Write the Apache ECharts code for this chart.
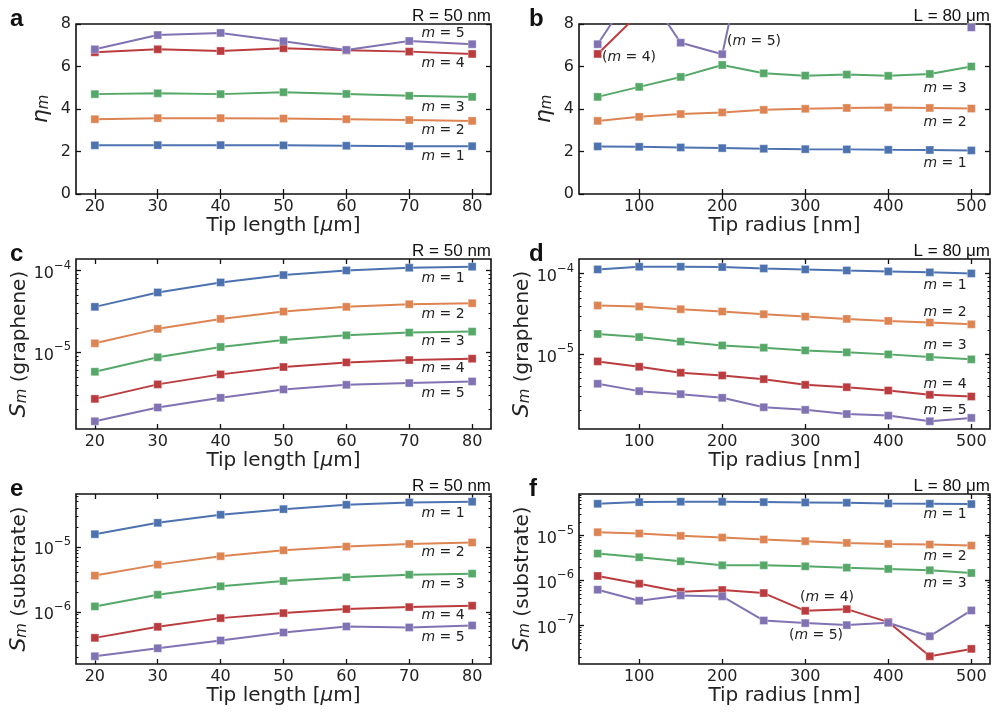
<!DOCTYPE html>
<html>
<head>
<meta charset="utf-8">
<script src="https://cdn.jsdelivr.net/npm/echarts@6/dist/echarts.min.js"></script>
<style>
  html, body { margin: 0; background: #fff; }
  #main { width: 994px; height: 713px; }
</style>
</head>
<body>
<div id="main"></div>
<script>
// x values and tick labels
const lengthX = [20, 30, 40, 50, 60, 70, 80];
const radiusX = [50, 100, 150, 200, 250, 300, 350, 400, 450, 500];
const lengthTicks = [20, 30, 40, 50, 60, 70, 80];
const radiusTicks = [100, 200, 300, 400, 500];
const etaTicks = [0, 2, 4, 6, 8];

// a: eta_m vs tip length (R = 50 nm), rows m = 1..5
const etaLength = [
  [2.29, 2.30, 2.30, 2.29, 2.27, 2.25, 2.25],
  [3.52, 3.57, 3.57, 3.55, 3.52, 3.48, 3.44],
  [4.70, 4.74, 4.70, 4.79, 4.71, 4.62, 4.57],
  [6.67, 6.81, 6.73, 6.86, 6.76, 6.70, 6.59],
  [6.81, 7.48, 7.58, 7.19, 6.78, 7.20, 7.05]
];
// b: eta_m vs tip radius (L = 80 um), m = 4, 5 go off the top
const etaRadius = [
  [2.24, 2.22, 2.19, 2.16, 2.13, 2.11, 2.10, 2.08, 2.07, 2.05],
  [3.44, 3.63, 3.76, 3.84, 3.96, 4.01, 4.05, 4.07, 4.05, 4.02],
  [4.57, 5.04, 5.51, 6.07, 5.68, 5.57, 5.62, 5.56, 5.65, 6.00],
  [6.59, 8.5, 11.5, 13.0, 14.5, 16.0, 17.0, 18.0, 19.0, 20.0],
  [7.05, 10.0, 7.12, 6.58, 15.5, 18.0, 21.0, 24.0, 30.0, 7.84]
];
// c: S_m (graphene) vs tip length
const grLength = [
  [3.61e-5, 5.42e-5, 7.19e-5, 8.85e-5, 1.009e-4, 1.089e-4, 1.12e-4],
  [1.29e-5, 1.94e-5, 2.57e-5, 3.16e-5, 3.61e-5, 3.89e-5, 4.0e-5],
  [5.78e-6, 8.69e-6, 1.164e-5, 1.419e-5, 1.618e-5, 1.746e-5, 1.795e-5],
  [2.69e-6, 4.05e-6, 5.37e-6, 6.61e-6, 7.53e-6, 8.05e-6, 8.36e-6],
  [1.43e-6, 2.11e-6, 2.77e-6, 3.51e-6, 4.0e-6, 4.2e-6, 4.4e-6]
];
// d: S_m (graphene) vs tip radius
const grRadius = [
  [1.132e-4, 1.222e-4, 1.222e-4, 1.211e-4, 1.164e-4, 1.132e-4, 1.099e-4, 1.069e-4, 1.040e-4, 1.009e-4],
  [4.04e-5, 3.92e-5, 3.63e-5, 3.40e-5, 3.15e-5, 2.94e-5, 2.75e-5, 2.60e-5, 2.48e-5, 2.36e-5],
  [1.79e-5, 1.64e-5, 1.44e-5, 1.29e-5, 1.21e-5, 1.12e-5, 1.06e-5, 1.0e-5, 9.27e-6, 8.67e-6],
  [8.18e-6, 7.02e-6, 5.92e-6, 5.48e-6, 4.93e-6, 4.19e-6, 3.92e-6, 3.56e-6, 3.15e-6, 3.0e-6],
  [4.32e-6, 3.50e-6, 3.21e-6, 2.89e-6, 2.21e-6, 2.05e-6, 1.82e-6, 1.74e-6, 1.48e-6, 1.63e-6]
];
// e: S_m (substrate) vs tip length
const subLength = [
  [1.57e-5, 2.35e-5, 3.13e-5, 3.82e-5, 4.46e-5, 4.85e-5, 4.97e-5],
  [3.61e-6, 5.33e-6, 7.18e-6, 8.87e-6, 1.01e-5, 1.11e-5, 1.17e-5],
  [1.21e-6, 1.83e-6, 2.47e-6, 2.98e-6, 3.40e-6, 3.73e-6, 3.87e-6],
  [3.96e-7, 5.86e-7, 7.98e-7, 9.53e-7, 1.10e-6, 1.18e-6, 1.24e-6],
  [2.06e-7, 2.74e-7, 3.61e-7, 4.79e-7, 5.93e-7, 5.73e-7, 6.15e-7]
];
// f: S_m (substrate) vs tip radius
const subRadius = [
  [5.08e-5, 5.53e-5, 5.64e-5, 5.64e-5, 5.53e-5, 5.44e-5, 5.36e-5, 5.18e-5, 5.08e-5, 5.0e-5],
  [1.186e-5, 1.109e-5, 9.84e-6, 9.02e-6, 8.15e-6, 7.48e-6, 6.86e-6, 6.52e-6, 6.30e-6, 5.98e-6],
  [3.97e-6, 3.29e-6, 2.68e-6, 2.18e-6, 2.18e-6, 2.07e-6, 1.93e-6, 1.81e-6, 1.69e-6, 1.47e-6],
  [1.26e-6, 8.49e-7, 5.64e-7, 6.14e-7, 5.26e-7, 2.12e-7, 2.31e-7, 1.19e-7, 2.07e-8, 3.02e-8],
  [6.25e-7, 3.55e-7, 4.67e-7, 4.44e-7, 1.29e-7, 1.13e-7, 1.02e-7, 1.15e-7, 5.78e-8, 2.16e-7]
];

const colors = ['#4c72b0', '#dd8452', '#55a868', '#bb3c3f', '#8172b3'];
const FONT = 'DejaVu Sans';
const SANS = 'Liberation Sans';

const panels = [
  { letter: 'a', x: lengthX, xt: lengthTicks, rows: etaLength, log: false, yname: 'eta', xname: 'Tip length', note: 'R = 50 nm', left: 76, top: 24, width: 415 },
  { letter: 'b', x: radiusX, xt: radiusTicks, rows: etaRadius, log: false, yname: 'eta', xname: 'Tip radius', note: 'L = 80 μm', left: 579, top: 24, width: 411 },
  { letter: 'c', x: lengthX, xt: lengthTicks, rows: grLength, log: true, yname: 'graphene', xname: 'Tip length', note: 'R = 50 nm', left: 76, top: 259, width: 415 },
  { letter: 'd', x: radiusX, xt: radiusTicks, rows: grRadius, log: true, yname: 'graphene', xname: 'Tip radius', note: 'L = 80 μm', left: 579, top: 259, width: 411 },
  { letter: 'e', x: lengthX, xt: lengthTicks, rows: subLength, log: true, yname: 'substrate', xname: 'Tip length', note: 'R = 50 nm', left: 76, top: 494, width: 415 },
  { letter: 'f', x: radiusX, xt: radiusTicks, rows: subRadius, log: true, yname: 'substrate', xname: 'Tip radius', note: 'L = 80 μm', left: 579, top: 494, width: 411 }
];

// labels next to the curves (pixel centres)
const notes = [
  [443, 156, 'm = 1'], [443, 130, 'm = 2'], [443, 107, 'm = 3'], [443, 63, 'm = 4'], [443, 33, 'm = 5'],
  [945, 163, 'm = 1'], [945, 122, 'm = 2'], [945, 88, 'm = 3'], [629, 57, '(m = 4)'], [754, 41, '(m = 5)'],
  [443, 278, 'm = 1'], [443, 314, 'm = 2'], [443, 341, 'm = 3'], [443, 368, 'm = 4'], [443, 393, 'm = 5'],
  [945, 285, 'm = 1'], [945, 312, 'm = 2'], [945, 345, 'm = 3'], [945, 384, 'm = 4'], [945, 410, 'm = 5'],
  [443, 513, 'm = 1'], [443, 552, 'm = 2'], [443, 584, 'm = 3'], [443, 615, 'm = 4'], [443, 637, 'm = 5'],
  [945, 514, 'm = 1'], [945, 556, 'm = 2'], [945, 583, 'm = 3'], [827, 597, '(m = 4)'], [816, 635, '(m = 5)']
];

const H = 170;
const grid = [], xAxis = [], yAxis = [], series = [], graphic = [];

function pad(lo, hi) {
  const d = (hi - lo) * 0.05;
  return [lo - d, hi + d];
}

function logTicks(lo, hi) {
  const major = [], minor = [];
  for (let n = Math.floor(lo); n <= Math.ceil(hi); n++) {
    if (n >= lo && n <= hi) major.push(n);
    for (let k = 2; k <= 9; k++) {
      const v = n + Math.log10(k);
      if (v >= lo && v <= hi) minor.push(v);
    }
  }
  return { major, minor };
}

const tickStyle = { lineStyle: { color: '#111', width: 1.3 } };

panels.forEach((p, i) => {
  grid.push({
    left: p.left, top: p.top, width: p.width, height: H,
    show: true, borderColor: '#111', borderWidth: 1.6, backgroundColor: 'transparent'
  });
  const xr = pad(p.x[0], p.x[p.x.length - 1]);
  let yr, major, minor = [];
  if (p.log) {
    const all = [].concat(...p.rows).map(Math.log10);
    yr = pad(Math.min(...all), Math.max(...all));
    const t = logTicks(yr[0], yr[1]);
    major = t.major; minor = t.minor;
  } else {
    yr = [0, 8];
    major = etaTicks;
  }

  const xi = xAxis.length;
  xAxis.push({
    type: 'value', gridIndex: i, position: 'bottom', min: xr[0], max: xr[1],
    axisLine: { show: false }, splitLine: { show: false },
    axisTick: { show: true, inside: true, length: 5, customValues: p.xt, ...tickStyle },
    axisLabel: { show: true, customValues: p.xt, margin: 5, color: '#222', fontSize: 16, fontFamily: FONT },
    name: p.xname + ' [' + (p.xname === 'Tip length' ? '{i|μ}m' : 'nm') + ']',
    nameLocation: 'middle', nameGap: 19,
    nameTextStyle: { fontSize: 20, color: '#222', fontFamily: FONT, rich: { i: { fontSize: 20, fontStyle: 'italic', fontFamily: FONT, color: '#222' } } }
  });
  xAxis.push({
    type: 'value', gridIndex: i, position: 'top', min: xr[0], max: xr[1],
    axisLine: { show: false }, splitLine: { show: false }, axisLabel: { show: false },
    axisTick: { show: true, inside: true, length: 5, customValues: p.xt, ...tickStyle }
  });

  const yi = yAxis.length;
  const yname = p.yname === 'eta'
    ? '{g|η}{s|m}'
    : '{g|S}{s|m}{t| (' + p.yname + ')}';
  yAxis.push({
    type: 'value', gridIndex: i, position: 'left', min: yr[0], max: yr[1],
    axisLine: { show: false }, splitLine: { show: false },
    axisTick: { show: true, inside: true, length: 5, customValues: major, ...tickStyle },
    axisLabel: {
      show: true, customValues: major, margin: 5, color: '#222', fontSize: 16, fontFamily: FONT,
      formatter: p.log ? (v => '{b|10}{e|' + (v < 0 ? '−' : '') + Math.abs(Math.round(v)) + '}') : (v => String(v)),
      rich: {
        b: { fontSize: 16, fontFamily: FONT, color: '#222', verticalAlign: 'bottom', lineHeight: 22 },
        e: { fontSize: 11.5, fontFamily: FONT, color: '#222', verticalAlign: 'top', lineHeight: 22 }
      }
    },
    name: yname, nameLocation: 'middle', nameGap: p.log ? 46 : 24,
    nameTextStyle: {
      color: '#222', fontFamily: FONT,
      rich: {
        g: { fontSize: 22, fontStyle: 'italic', fontFamily: FONT, color: '#222', verticalAlign: 'bottom', lineHeight: 28 },
        s: { fontSize: 15, fontStyle: 'italic', fontFamily: FONT, color: '#222', verticalAlign: 'bottom', lineHeight: 22 },
        t: { fontSize: 20, fontFamily: FONT, color: '#222', verticalAlign: 'bottom', lineHeight: 26 }
      }
    }
  });
  yAxis.push({
    type: 'value', gridIndex: i, position: 'right', min: yr[0], max: yr[1],
    axisLine: { show: false }, splitLine: { show: false }, axisLabel: { show: false },
    axisTick: { show: true, inside: true, length: 5, customValues: major, ...tickStyle }
  });
  if (p.log) {
    ['left', 'right'].forEach(pos => {
      yAxis.push({
        type: 'value', gridIndex: i, position: pos, min: yr[0], max: yr[1],
        axisLine: { show: false }, splitLine: { show: false }, axisLabel: { show: false },
        axisTick: { show: true, inside: true, length: 2.5, customValues: minor, lineStyle: { color: '#111', width: 1 } }
      });
    });
  }

  p.rows.forEach((row, m) => {
    series.push({
      type: 'line', xAxisIndex: xi, yAxisIndex: yi, clip: true,
      data: p.x.map((xv, j) => [xv, p.log ? Math.log10(row[j]) : row[j]]),
      symbol: 'rect', symbolSize: 8, showSymbol: true,
      lineStyle: { color: colors[m], width: 2 },
      itemStyle: { color: colors[m], borderColor: 'rgba(255,255,255,0.35)', borderWidth: 1 },
      silent: true, animation: false
    });
  });

  graphic.push({
    type: 'text', left: p.left - (p.left < 300 ? 66 : 50), top: p.top - 17,
    style: { text: p.letter, font: 'bold 24px "' + SANS + '"', fill: '#111' }
  });
  graphic.push({
    type: 'text', x: p.left + p.width, y: p.top - 8,
    style: { text: p.note, font: '17px "' + SANS + '"', fill: '#111', align: 'right', verticalAlign: 'middle' }
  });
});

notes.forEach(([x, y, t]) => {
  graphic.push({
    type: 'text', x: x, y: y,
    style: {
      text: t.replace('m', '{i|m}'),
      font: '14px "' + FONT + '"', fill: '#222', align: 'center', verticalAlign: 'middle',
      rich: { i: { fontStyle: 'italic', fontSize: 14, fontFamily: FONT, fill: '#222' } }
    }
  });
});

const chart = echarts.init(document.getElementById('main'), null, { renderer: 'canvas' });
chart.setOption({
  backgroundColor: '#fff',
  animation: false,
  grid, xAxis, yAxis, series, graphic
});
</script>
</body>
</html>
